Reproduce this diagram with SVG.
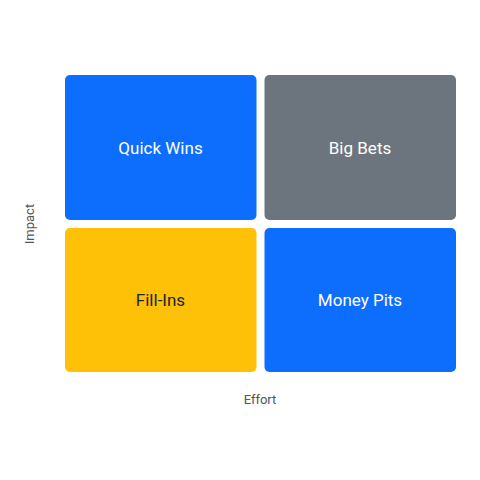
<svg xmlns="http://www.w3.org/2000/svg" width="480" height="480" viewBox="0 0 480 480">
<style>
.q{stroke:none}
.t{font-family:Roboto,"Liberation Sans",sans-serif;font-size:17px;text-anchor:middle;dominant-baseline:central}
.ax{font-family:Roboto,"Liberation Sans",sans-serif;font-size:13px;fill:#555;text-anchor:middle;dominant-baseline:central}
</style>
<rect width="480" height="480" fill="#fff"/>
<g id="quick-wins"><rect class="q" x="65" y="75" width="191.5" height="145" rx="5" fill="#0d6efd"/><text class="t" x="160.5" y="148" fill="#fff">Quick Wins</text></g>
<g id="big-bets"><rect class="q" x="264.5" y="75" width="191.5" height="145" rx="5" fill="#6c757d"/><text class="t" x="360" y="148" fill="#fff">Big Bets</text></g>
<g id="fill-ins"><rect class="q" x="65" y="228" width="191.5" height="144" rx="5" fill="#ffc107"/><text class="t" x="160.5" y="300" fill="#212529">Fill-Ins</text></g>
<g id="money-pits"><rect class="q" x="264.5" y="228" width="191.5" height="144" rx="5" fill="#0d6efd"/><text class="t" x="360" y="300" fill="#fff">Money Pits</text></g>
<g id="connectors"></g>
<text class="ax" x="260" y="399">Effort</text>
<text class="ax" transform="translate(29,224) rotate(-90)">Impact</text>
</svg>
